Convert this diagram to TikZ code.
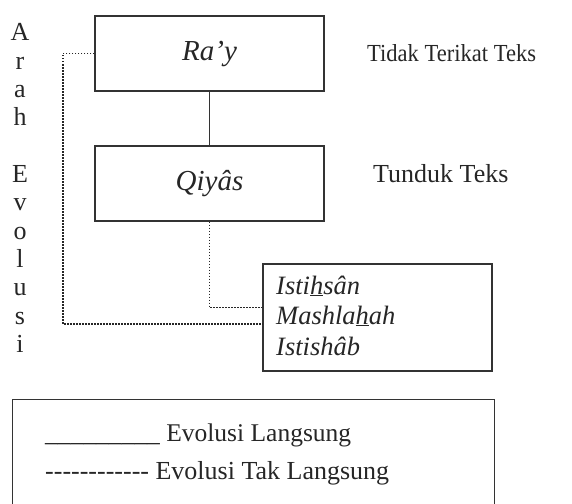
\documentclass[tikz,border=0pt]{standalone}
\usepackage{fontspec}
\setmainfont{Liberation Serif}
\usetikzlibrary{calc}
\begin{document}
\begin{tikzpicture}[x=1pt,y=-1pt,
  ink/.style={draw=black!80, line width=1.2pt},
  box/.style={ink, rectangle, inner sep=0pt, text=black!85,
    font=\fontsize{29}{32}\selectfont\itshape},
  dotline/.style={draw=black!85, line width=1.4pt, dash pattern=on 1.4pt off 1.6pt},
  lbl/.style={anchor=base west, inner sep=0pt, text=black!85,
    font=\fontsize{26}{31}\selectfont},
  itlbl/.style={anchor=base west, inner sep=0pt, text=black!85,
    font=\fontsize{26.5}{31}\selectfont\itshape},
  letter/.style={anchor=base, inner sep=0pt, text=black!85,
    font=\fontsize{26}{31}\selectfont}
]
\useasboundingbox (0,0) rectangle (572,503);

% main boxes
\node[box, minimum width=229pt, minimum height=75pt] (ray) at (209.5,53.5) {Ra’y};
\node[box, minimum width=229pt, minimum height=75pt] (qiyas) at (209.5,183.5) {Qiyâs};
\draw[ink] (qiyas.north |- ray.south) -- (qiyas.north);

% side notes
\node[lbl, font=\fontsize{24.5}{29}\selectfont\addfontfeature{FakeStretch=0.92}] (bebas) at (367,61) {Tidak Terikat Teks};
\node[lbl] (tunduk) at (373,182) {Tunduk Teks};

% list of derived methods
\node[box, minimum width=229pt, minimum height=107pt] (list) at (377.5,317.5) {};
\node[itlbl] (ihsan) at (276,294) {Isti\underline{h}sân};
\node[itlbl] (maslahah) at (276,324) {Mashla\underline{h}ah};
\node[itlbl] (istishab) at (276,355) {Istishâb};

% indirect links
\coordinate (bend) at (63,0);
\draw[dotline] (qiyas.south) |- ($(list.north west)!0.41!(list.south west)$);
\draw[dotline] (ray.west) -- (ray.west -| bend) |- ($(list.north west)!0.56!(list.south west)$);

% vertical caption
\foreach \ch/\yy [count=\i] in {A/41, r/69.3, a/97.6, h/125.9, E/182.5, v/210.8, o/239.1, l/267.4, u/295.7, s/324, i/352.3}
  \node[letter] (arah\i) at (20,\yy) {\ch};

% legend
\node[ink, rectangle, inner sep=0pt, minimum width=482pt, minimum height=130pt, anchor=north west] (legend) at (12,399) {};
\node[lbl, font=\fontsize{25.5}{31}\selectfont] (direct) at (45,441) {\_\_\_\_\_\_\_\_\_ Evolusi Langsung};
\node[lbl] (indirect) at (45,479) {-{}-{}-{}-{}-{}-{}-{}-{}-{}-{}-{}- Evolusi Tak Langsung};
\end{tikzpicture}
\end{document}
